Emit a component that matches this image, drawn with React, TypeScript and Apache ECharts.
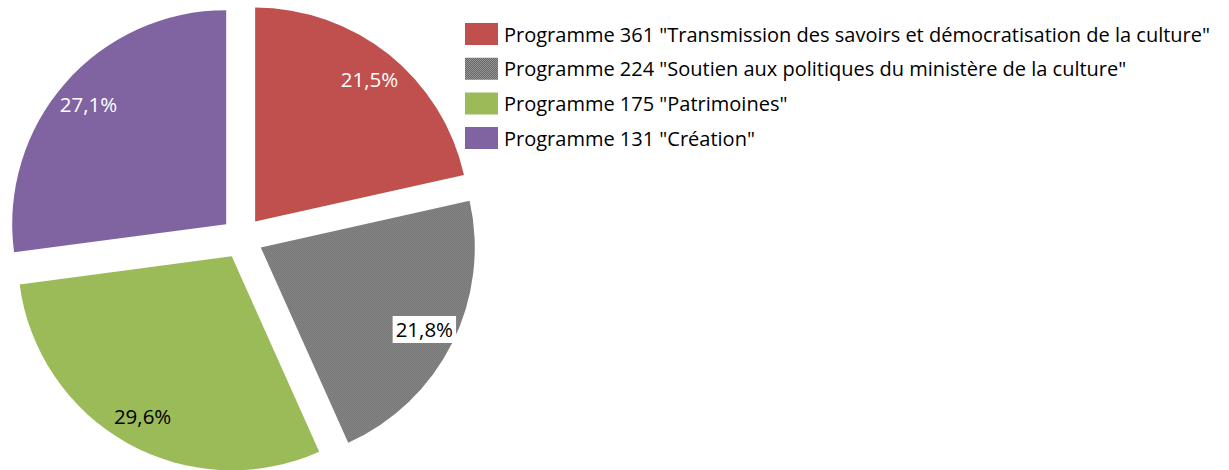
import React, { useEffect, useRef } from "react";
import * as echarts from "echarts";

const names = [
  'Programme 361 "Transmission des savoirs et démocratisation de la culture"',
  'Programme 224 "Soutien aux politiques du ministère de la culture"',
  'Programme 175 "Patrimoines"',
  'Programme 131 "Création"',
];
const values = [21.5, 21.8, 29.6, 27.1];
const colors = ["#C0504D", "pattern", "#9BBB59", "#8064A2"];
const labelColors = ["#ffffff", "#000000", "#000000", "#ffffff"];

function makePattern() {
  const c = document.createElement("canvas");
  c.width = 2;
  c.height = 2;
  const ctx = c.getContext("2d")!;
  ctx.fillStyle = "#b8b8b8";
  ctx.fillRect(0, 0, 2, 2);
  ctx.fillStyle = "#444444";
  ctx.fillRect(0, 0, 1, 1);
  ctx.fillRect(1, 1, 1, 1);
  return { image: c, repeat: "repeat" } as any;
}

export default function App() {
  const ref = useRef<HTMLDivElement>(null);
  useEffect(() => {
    const chart = echarts.init(ref.current!, null, { renderer: "svg" });
    const pattern = makePattern();
    const center = [242, 238];
    const font = "'Open Sans', Lato, sans-serif";
    const fill = (i: number) => (colors[i] === "pattern" ? pattern : colors[i]);
    chart.setOption({
      animation: false,
      legend: {
        orient: "vertical",
        left: 465,
        top: 23,
        padding: 0,
        itemWidth: 33,
        itemHeight: 22,
        itemGap: 12.7,
        icon: "rect",
        selectedMode: false,
        data: names,
        textStyle: { fontSize: 20, fontFamily: font, color: "#000", padding: [0, 0, 0, 1] },
      },
      series: [
        {
          type: "pie",
          center,
          radius: [0, 214],
          startAngle: 90,
          clockwise: true,
          selectedMode: "multiple",
          selectedOffset: 21,
          silent: true,
          label: { show: false },
          labelLine: { show: false },
          emphasis: { disabled: true },
          data: names.map((n, i) => ({
            name: n,
            value: values[i],
            selected: true,
            itemStyle: { color: fill(i) },
          })),
        },
        {
          type: "pie",
          center,
          radius: [146, 214],
          startAngle: 90,
          clockwise: true,
          selectedMode: "multiple",
          selectedOffset: 21,
          silent: true,
          labelLine: { show: false },
          emphasis: { disabled: true },
          label: {
            show: true,
            position: "inside",
            fontSize: 20.5,
            fontFamily: font,
            formatter: (p: any) => p.value.toFixed(1).replace(".", ",") + "%",
          },
          data: names.map((n, i) => ({
            name: n,
            value: values[i],
            selected: true,
            itemStyle: { color: "rgba(0,0,0,0)" },
            label:
              i === 1
                ? { color: labelColors[i], backgroundColor: "#ffffff", padding: [4, 3, 2, 3] }
                : { color: labelColors[i] },
          })),
        },
      ],
    });
    return () => chart.dispose();
  }, []);
  return (
    <div
      ref={ref}
      style={{ position: "absolute", left: 0, top: 0, width: 1229, height: 470, background: "#fff" }}
    />
  );
}
